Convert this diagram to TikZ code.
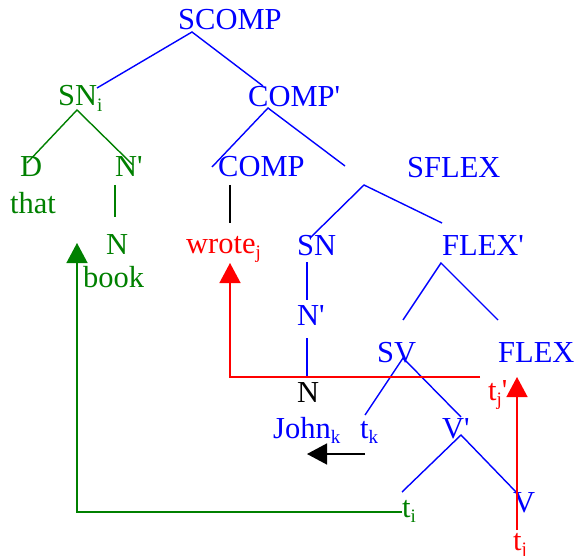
\documentclass[tikz,border=0pt]{standalone}
\usepackage{fontspec}
\setmainfont{Liberation Serif}
\usetikzlibrary{arrows.meta}
\definecolor{tblue}{RGB}{0,0,255}
\definecolor{tgreen}{RGB}{0,128,0}
\definecolor{tred}{RGB}{255,0,0}
\newcommand{\sbs}[1]{\raisebox{-0.17em}{\fontsize{19}{19}\selectfont #1}}
\newcommand{\prm}{\textquotesingle}
\tikzset{
  lbl/.style={anchor=base west,inner sep=0pt,font=\fontsize{30.5}{36}\selectfont},
  bl/.style={lbl,text=tblue},
  gr/.style={lbl,text=tgreen},
  rd/.style={lbl,text=tred},
  bk/.style={lbl,text=black},
  bline/.style={draw=tblue,line width=1.4pt},
  gline/.style={draw=tgreen,line width=1.4pt},
  rline/.style={draw=tred,line width=1.4pt},
  kline/.style={draw=black,line width=1.4pt},
  tip/.style={-{Triangle[length=20pt,width=21pt]}},
}
\begin{document}
\begin{tikzpicture}[x=1pt,y=-1pt]
\useasboundingbox (0,0) rectangle (575,556);
% labels
\node[bl] (scomp) at (178,30) {SCOMP};
\node[gr] (sni) at (58,106) {SN\sbs{i}};
\node[bl] (compp) at (248,107) {COMP\prm};
\node[gr] (d) at (20,177) {D};
\node[gr] (npg) at (115,177) {N\prm};
\node[gr] (that) at (10,213) {that};
\node[gr] (ng) at (106,254) {N};
\node[gr] (book) at (83,287) {book};
\node[bl] (comp) at (218,177) {COMP};
\node[rd] (wrote) at (186,253) {wrote\sbs{j}};
\node[bl] (sflex) at (407,178) {SFLEX};
\node[bl] (sn) at (297,255) {SN};
\node[bl] (flexp) at (442,255) {FLEX\prm};
\node[bl] (npb) at (297,325) {N\prm};
\node[bl] (sv) at (377,362) {SV};
\node[bl] (flex) at (498,362) {FLEX};
\node[bk] (nk) at (297,402) {N};
\node[rd] (tjp) at (488,400) {t\sbs{j}\prm};
\node[bl] (john) at (273,438) {John\sbs{k}};
\node[bl] (tk) at (360,438) {t\sbs{k}};
\node[bl] (vp) at (442,438) {V\prm};
\node[gr] (ti) at (402,517) {t\sbs{i}};
\node[bl] (v) at (513,512) {V};
\node[rd] (tj) at (513,550) {t\sbs{j}};
% tree line end points
\coordinate (a0) at (192,32);
\coordinate (a1) at (97,88);
\coordinate (a2) at (263,86);
\coordinate (b0) at (77,110);
\coordinate (b1) at (27,163);
\coordinate (b2) at (133,165);
\coordinate (c0) at (268,108);
\coordinate (c1) at (212,167);
\coordinate (c2) at (345,166);
\coordinate (d0) at (230,185);
\coordinate (d1) at (230,223);
\coordinate (e0) at (115,185);
\coordinate (e1) at (115,217);
\coordinate (f0) at (364,185);
\coordinate (f1) at (310,238);
\coordinate (f2) at (442,223);
\coordinate (g0) at (307,262);
\coordinate (g1) at (307,300);
\coordinate (g2) at (307,338);
\coordinate (g3) at (307,377);
\coordinate (h0) at (441,263);
\coordinate (h1) at (403,320);
\coordinate (h2) at (498,320);
\coordinate (i0) at (403,358);
\coordinate (i1) at (365,415);
\coordinate (i2) at (461,417);
\coordinate (j0) at (461,435);
\coordinate (j1) at (402,492);
\coordinate (j2) at (517,493);
% movement points
\coordinate (rl) at (230,377);
\coordinate (rr) at (480,377);
\coordinate (rt) at (230,263);
\coordinate (vr0) at (517,530);
\coordinate (vr1) at (517,377);
\coordinate (k0) at (365,454);
\coordinate (k1) at (307,454);
\coordinate (gl0) at (402,512);
\coordinate (gl1) at (77,512);
\coordinate (gt) at (77,243);
% tree
\draw[bline] (a1) -- (a0) -- (a2);
\draw[gline] (b1) -- (b0) -- (b2);
\draw[bline] (c1) -- (c0) -- (c2);
\draw[kline] (d0) -- (d1);
\draw[gline] (e0) -- (e1);
\draw[bline] (f1) -- (f0) -- (f2);
\draw[bline] (g0) -- (g1);
\draw[bline] (g2) -- (g3);
\draw[bline] (h1) -- (h0) -- (h2);
\draw[bline] (i1) -- (i0) -- (i2);
\draw[bline] (j1) -- (j0) -- (j2);
% movement arrows
\draw[rline,tip] (rr) -- (rl) -- (rt);
\draw[rline,tip] (vr0) -- (vr1);
\draw[kline,tip] (k0) -- (k1);
\draw[gline,tip] (gl0) -- (gl1) -- (gt);
\end{tikzpicture}
\end{document}
